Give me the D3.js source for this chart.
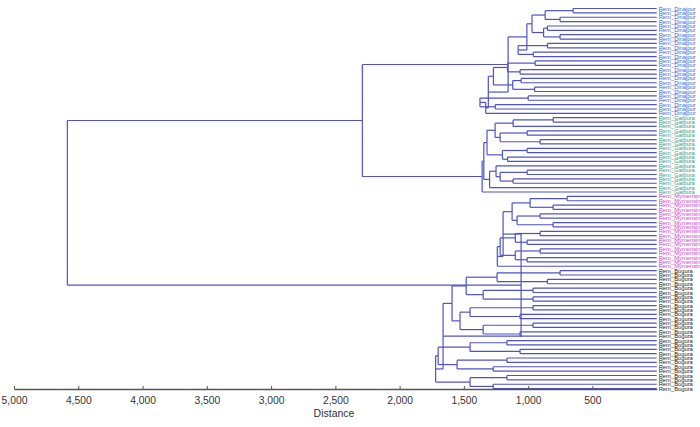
<!DOCTYPE html>
<html>
<head>
<meta charset="utf-8">
<script src="https://cdn.jsdelivr.net/npm/d3@7"></script>
<style>
  body { margin: 0; background: #fff; }
  text { font-family: "Liberation Sans", Arial, sans-serif; }
</style>
</head>
<body>
<div id="chart"></div>
<script>
// leaf marker inside the nested trees: [height, left, right]
const L = 0;

const groupNames = ["Rem_Dinajpur", "Rem_Gaibura", "Rem_Mymensingh", "Rem_Bogura"];

const dinajpurTree = [1156,
  [1010,
    [970, [868, [650, L, L], [752, L, L]], [880, [850, L, L], [752, L, L]]],
    [1078, [850, L, L], [960, L, L]]],
  [1310,
    [1270, [1160, [946, L, L], [1063, L, L]], [1120, [1055, L, L], [950, L, L]]],
    [1330, [1375, [1000, L, L], [1256, L, L]], L]]];

const gaiburaTree = [1358,
  [1345,
    [1320,
      [1257, [1117, [806, L, L], L], [1218, [1008, L, L], [907, L, L]]],
      [1200, [1008, L, L], [1160, L, L]]],
    [1300, [1250, L, [1218, [1008, L, L], [1117, L, L]]], L]],
  L];

const mymensTree = [1195,
  [1125, [985, [697, L, L], [806, L, L]], [1086, [907, L, L], [806, L, L]]],
  [1240,
    [1218, [1100, [907, L, L], [1008, L, L]], [1100, [907, L, L], [1008, L, L]]],
    L]];

const boguraTree = [1662,
  [1592,
    [1482, [1242, [752, L, L], [850, L, L]], [1350, [962, L, L], [962, L, L]]],
    [1530, [1452, [962, L, L], [1063, L, L]], [1350, [962, L, L], [1063, L, L]]]],
  [1720,
    [1700, [1452, [1165, L, L], [1063, L, L]], [1553, [1165, L, L], [1272, L, L]]],
    [1452, [1165, L, L], [1272, L, L]]]];

const upperHeight = 2290;   // Dinajpur + Gaibura
const lowerHeight = 1055;   // Mymensingh + Bogura
const rootHeight = 4585;

const distanceTicks = [5000, 4500, 4000, 3500, 3000, 2500, 2000, 1500, 1000, 500];

// ---- build the hierarchy
function toNode(t, g) {
  if (t === L) return {h: 0, group: g};
  return {h: t[0], children: [toNode(t[1], g), toNode(t[2], g)]};
}

const treeData = {h: rootHeight, children: [
  {h: upperHeight, children: [toNode(dinajpurTree, 0), toNode(gaiburaTree, 1)]},
  {h: lowerHeight, children: [toNode(mymensTree, 2), toNode(boguraTree, 3)]}
]};

const root = d3.hierarchy(treeData);
const leaves = root.leaves();

const width = 700, height = 427;

const x = d3.scaleLinear().domain([5000, 0]).range([14, 656.7]);
const y = d3.scalePoint().domain(d3.range(leaves.length)).range([8.5, 388.6]);

leaves.forEach((d, i) => d.yPos = y(i));
root.eachAfter(d => {
  if (d.children) d.yPos = (d.children[0].yPos + d.children[d.children.length - 1].yPos) / 2;
});

const labelColor = ["#3a66d6", "#3a9c84", "#cc44cc", "#222222"];
const lineColor = "#4f52c6";

const svg = d3.select("#chart").append("svg")
  .attr("width", width)
  .attr("height", height);

// horizontal links
svg.append("g")
  .selectAll("path")
  .data(root.links())
  .join("path")
  .attr("d", d => "M" + x(d.source.data.h) + "," + d.target.yPos + "H" + x(d.target.data.h))
  .attr("fill", "none")
  .attr("stroke", lineColor)
  .attr("stroke-width", 1.2);

// vertical joins
svg.append("g")
  .selectAll("path")
  .data(root.descendants().filter(d => d.children))
  .join("path")
  .attr("d", d => "M" + x(d.data.h) + "," + d.children[0].yPos + "V" + d.children[1].yPos)
  .attr("fill", "none")
  .attr("stroke", lineColor)
  .attr("stroke-width", 1.2);

// leaf labels
svg.append("g")
  .selectAll("text")
  .data(leaves)
  .join("text")
  .attr("x", x(0) + 2)
  .attr("y", d => d.yPos)
  .attr("dy", "0.35em")
  .attr("font-size", "5.8px")
  .attr("fill", d => labelColor[d.data.group])
  .text(d => groupNames[d.data.group]);

// axis
const axis = svg.append("g")
  .attr("transform", "translate(0,389)")
  .call(d3.axisBottom(x)
    .tickValues(distanceTicks)
    .tickFormat(d3.format(","))
    .tickSizeInner(-3)
    .tickSizeOuter(0)
    .tickPadding(7.5));

axis.select(".domain").attr("stroke", "#555").attr("stroke-width", 1.3);
axis.selectAll(".tick line").attr("stroke", "#555");
axis.selectAll(".tick text")
  .attr("fill", "#333")
  .attr("font-size", "10.3px")
  .attr("font-family", "'Liberation Sans', Arial, sans-serif");

svg.append("text")
  .attr("x", 334)
  .attr("y", 417)
  .attr("text-anchor", "middle")
  .attr("font-size", "10.5px")
  .attr("fill", "#333")
  .text("Distance");
</script>
</body>
</html>
